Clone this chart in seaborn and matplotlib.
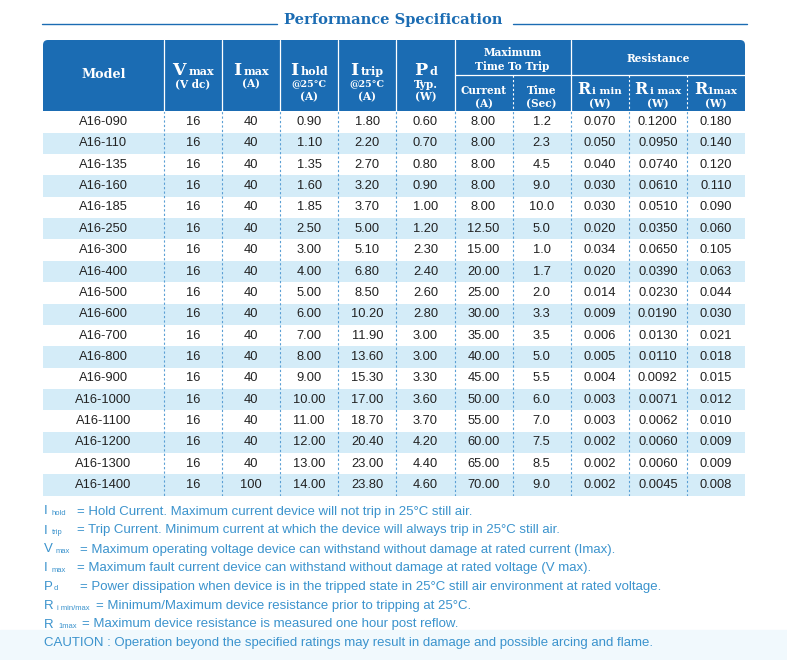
import numpy as np
import pandas as pd
import seaborn as sns
import matplotlib.pyplot as plt
from matplotlib.colors import ListedColormap
from matplotlib.patches import FancyBboxPatch, Rectangle

# Dados da tabela
models = ['A16-090', 'A16-110', 'A16-135', 'A16-160', 'A16-185', 'A16-250',
          'A16-300', 'A16-400', 'A16-500', 'A16-600', 'A16-700', 'A16-800',
          'A16-900', 'A16-1000', 'A16-1100', 'A16-1200', 'A16-1300', 'A16-1400']
v_max = [16, 16, 16, 16, 16, 16, 16, 16, 16, 16, 16, 16, 16, 16, 16, 16, 16, 16]
i_max = [40, 40, 40, 40, 40, 40, 40, 40, 40, 40, 40, 40, 40, 40, 40, 40, 40, 100]
i_hold = [0.90, 1.10, 1.35, 1.60, 1.85, 2.50, 3.00, 4.00, 5.00, 6.00, 7.00, 8.00,
          9.00, 10.00, 11.00, 12.00, 13.00, 14.00]
i_trip = [1.80, 2.20, 2.70, 3.20, 3.70, 5.00, 5.10, 6.80, 8.50, 10.20, 11.90, 13.60,
          15.30, 17.00, 18.70, 20.40, 23.00, 23.80]
pd_typ = [0.60, 0.70, 0.80, 0.90, 1.00, 1.20, 2.30, 2.40, 2.60, 2.80, 3.00, 3.00,
          3.30, 3.60, 3.70, 4.20, 4.40, 4.60]
trip_current = [8.00, 8.00, 8.00, 8.00, 8.00, 12.50, 15.00, 20.00, 25.00, 30.00, 35.00,
                40.00, 45.00, 50.00, 55.00, 60.00, 65.00, 70.00]
trip_time = [1.2, 2.3, 4.5, 9.0, 10.0, 5.0, 1.0, 1.7, 2.0, 3.3, 3.5, 5.0, 5.5, 6.0,
             7.0, 7.5, 8.5, 9.0]
r_i_min = [0.070, 0.050, 0.040, 0.030, 0.030, 0.020, 0.034, 0.020, 0.014, 0.009,
           0.006, 0.005, 0.004, 0.003, 0.003, 0.002, 0.002, 0.002]
r_i_max = [0.1200, 0.0950, 0.0740, 0.0610, 0.0510, 0.0350, 0.0650, 0.0390, 0.0230,
           0.0190, 0.0130, 0.0110, 0.0092, 0.0071, 0.0062, 0.0060, 0.0060, 0.0045]
r_1_max = [0.180, 0.140, 0.120, 0.110, 0.090, 0.060, 0.105, 0.063, 0.044, 0.030,
           0.021, 0.018, 0.015, 0.012, 0.010, 0.009, 0.009, 0.008]

footnotes = [
    ('I', 'hold', '= Hold Current. Maximum current device will not trip in 25°C still air.'),
    ('I', 'trip', '= Trip Current. Minimum current at which the device will always trip in 25°C still air.'),
    ('V', 'max', '= Maximum operating voltage device can withstand without damage at rated current (Imax).'),
    ('I', 'max', '= Maximum fault current device can withstand without damage at rated voltage (V max).'),
    ('P', 'd', '= Power dissipation when device is in the tripped state in 25°C still air environment at rated voltage.'),
    ('R', 'i min/max', '= Minimum/Maximum device resistance prior to tripping at 25°C.'),
    ('R', '1max', '= Maximum device resistance is measured one hour post reflow.'),
    ('CAUTION : Operation beyond the specified ratings may result in damage and possible arcing and flame.', '', ''),
]

# Cores
AZUL = '#1b6cb3'
LISTRA = '#d4ecf8'
NOTA = '#3b93cd'
SERIF = 'DejaVu Serif'

sns.set_theme(style='white')
plt.rcParams['font.family'] = ['Liberation Sans', 'DejaVu Sans']

W, H = 787, 660
fig = plt.figure(figsize=(7.87, 6.6), dpi=100)
fig.patch.set_facecolor('white')

body_top, body_bot = 111.3, 495.8
left, split, right = 43, 164, 745
n = len(models)

# Corpo da tabela com heatmap (listras)
valores = pd.DataFrame({
    'vmax': [f'{v}' for v in v_max],
    'imax': [f'{v}' for v in i_max],
    'ihold': [f'{v:.2f}' for v in i_hold],
    'itrip': [f'{v:.2f}' for v in i_trip],
    'pd': [f'{v:.2f}' for v in pd_typ],
    'cur': [f'{v:.2f}' for v in trip_current],
    'time': [f'{v:.1f}' for v in trip_time],
    'rimin': [f'{v:.3f}' for v in r_i_min],
    'rimax': [f'{v:.4f}' for v in r_i_max],
    'r1max': [f'{v:.3f}' for v in r_1_max],
})
listras_v = pd.DataFrame([[i % 2] * valores.shape[1] for i in range(n)])
listras_m = pd.DataFrame([[i % 2] for i in range(n)])
cmap = ListedColormap(['white', LISTRA])
kw = dict(fontsize=9.3, color='#222222')

ax_m = fig.add_axes([left / W, 1 - body_bot / H, (split - left) / W, (body_bot - body_top) / H])
sns.heatmap(listras_m, ax=ax_m, cmap=cmap, vmin=0, vmax=1, cbar=False,
            annot=np.array(models).reshape(-1, 1), fmt='', annot_kws=kw,
            xticklabels=False, yticklabels=False)

ax_v = fig.add_axes([split / W, 1 - body_bot / H, (right - split) / W, (body_bot - body_top) / H])
sns.heatmap(listras_v, ax=ax_v, cmap=cmap, vmin=0, vmax=1, cbar=False,
            annot=valores.values, fmt='', annot_kws=kw,
            xticklabels=False, yticklabels=False)
for k in range(1, valores.shape[1]):
    ax_v.axvline(k, color='#5a9fd4', lw=0.8, ls=(0, (2, 2)))

# Camada superior em pixels
ax = fig.add_axes([0, 0, 1, 1], zorder=5)
ax.set_xlim(0, W)
ax.set_ylim(H, 0)
ax.axis('off')

bordas = [left] + [split + (right - split) * k / 10 for k in range(11)]
centros = [(a + b) / 2 for a, b in zip(bordas[:-1], bordas[1:])]

# fundo claro do rodapé
ax.add_patch(Rectangle((0, 630), W, 30, color='#f1f9fd', zorder=0))

# divisória Model | Vmax no corpo
ax.plot([split, split], [body_top, body_bot], color='#5a9fd4', lw=0.8, ls=(0, (2, 2)))

# Cabeçalho
ax.add_patch(FancyBboxPatch((left, 40), right - left, 71, boxstyle='round,pad=0,rounding_size=5',
                            color=AZUL, lw=0))
ax.add_patch(Rectangle((left, 60), right - left, 51.3, color=AZUL, lw=0))
for i, x in enumerate(bordas[1:-1], start=1):
    if i in (7, 9, 10):
        ax.plot([x, x], [75, 111], color='white', lw=0.8, ls=(0, (2, 2)))
    else:
        ax.plot([x, x], [40, 111], color='white', lw=0.9)
ax.plot([bordas[6], right], [75, 75], color='white', lw=0.9)

renderer = fig.canvas.get_renderer()


def composto(cx, y, grande, pequeno, gs=12.5, ps=8, gap=2.5):
    t1 = ax.text(0, y, grande, fontsize=gs, fontweight='bold', family=SERIF,
                 color='white', ha='left', va='baseline')
    t2 = ax.text(0, y, pequeno, fontsize=ps, fontweight='bold', family=SERIF,
                 color='white', ha='left', va='baseline')
    w1 = t1.get_window_extent(renderer).width
    w2 = t2.get_window_extent(renderer).width
    x0 = cx - (w1 + gap + w2) / 2
    t1.set_x(x0)
    t2.set_x(x0 + w1 + gap)


def linha(cx, y, txt, size=7.6):
    ax.text(cx, y, txt, fontsize=size, fontweight='bold', family=SERIF,
            color='white', ha='center', va='center')


ax.text(centros[0], 74.5, 'Model', fontsize=9.2, fontweight='bold', family=SERIF,
        color='white', ha='center', va='center')
composto(centros[1], 75, 'V', 'max')
linha(centros[1], 84, '(V dc)')
composto(centros[2], 75, 'I', 'max')
linha(centros[2], 84, '(A)')
composto(centros[3], 75, 'I', 'hold')
linha(centros[3], 84, '@25°C', 6.8)
linha(centros[3], 97, '(A)')
composto(centros[4], 75, 'I', 'trip')
linha(centros[4], 84, '@25°C', 6.8)
linha(centros[4], 97, '(A)')
composto(centros[5], 75, 'P', 'd')
linha(centros[5], 84, 'Typ.')
linha(centros[5], 97, '(W)')
linha(bordas[7], 53, 'Maximum')
linha(bordas[7], 66, 'Time To Trip')
linha((bordas[8] + right) / 2, 59, 'Resistance')
linha(centros[6], 90, 'Current')
linha(centros[6], 104, '(A)')
linha(centros[7], 90, 'Time')
linha(centros[7], 104, '(Sec)')
composto(centros[8], 94, 'R', 'i min', gs=11.5, ps=7.5, gap=2)
linha(centros[8], 104, '(W)')
composto(centros[9], 94, 'R', 'i max', gs=11.5, ps=7.5, gap=2)
linha(centros[9], 104, '(W)')
composto(centros[10], 94, 'R', '1max', gs=11.5, ps=7.5, gap=0)
linha(centros[10], 104, '(W)')

# Título
ax.text(393, 20, 'Performance Specification', fontsize=10.5, fontweight='bold',
        family=SERIF, color=AZUL, ha='center', va='center')
ax.plot([42, 277], [24, 24], color=AZUL, lw=1)
ax.plot([513, 747], [23.5, 23.5], color=AZUL, lw=1)

# Notas de rodapé
ys = [511.5, 530.5, 549.5, 568, 587, 606, 624.5, 643]
xs_sub = [52, 52, 56, 52, 54, 57, 58, 0]
xs_eq = [77, 77, 80, 77, 80, 96, 82, 0]
for (sym, sub, txt), y, xsb, xeq in zip(footnotes, ys, xs_sub, xs_eq):
    ax.text(44, y, sym, fontsize=9.5, color=NOTA, ha='left', va='center')
    if sub:
        ax.text(xsb, y + 2, sub, fontsize=5.5, color=NOTA, ha='left', va='center')
    if txt:
        ax.text(xeq, y, txt, fontsize=9.5, color=NOTA, ha='left', va='center')

fig.savefig('out.png', dpi=100)
